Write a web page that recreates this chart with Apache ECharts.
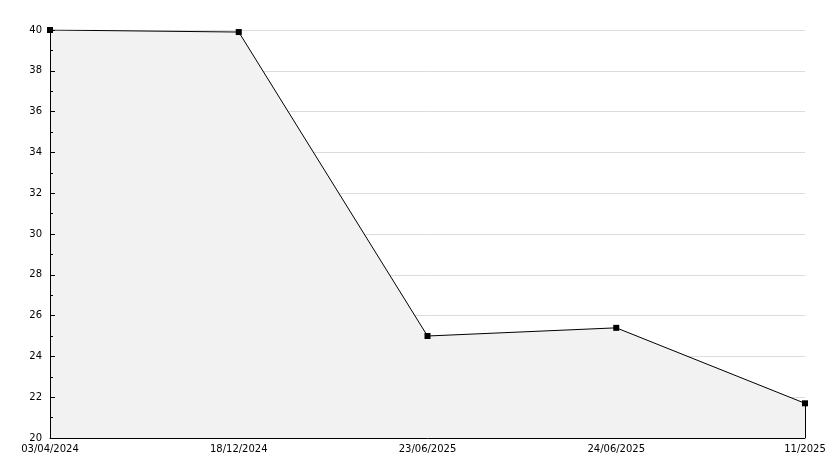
<!DOCTYPE html>
<html>
<head>
<meta charset="utf-8">
<script src="https://cdn.jsdelivr.net/npm/echarts@6/dist/echarts.min.js"></script>
<style>
  html, body { margin: 0; padding: 0; background: #fff; }
  #chart { width: 834px; height: 468px; }
</style>
</head>
<body>
<div id="chart"></div>
<script>
// dates along the bottom
var dates = ['03/04/2024', '18/12/2024', '23/06/2025', '24/06/2025', '11/2025']
// values
var values = [40, 39.9, 25.0, 25.4, 21.7]
var yMin = 20
var yMax = 40

var chart = echarts.init(document.getElementById('chart'))
chart.setOption({
  animation: false,
  grid: {
    left: 50,
    right: 29,
    top: 30,
    bottom: 30
  },
  xAxis: {
    type: 'category',
    boundaryGap: false,
    data: dates,
    z: 5,
    axisLine: { lineStyle: { color: '#000', width: 1 } },
    axisTick: { show: false },
    axisLabel: {
      color: '#000',
      fontFamily: 'DejaVu Sans',
      fontSize: 10,
      margin: 6,
      interval: 0
    },
    splitLine: { show: false }
  },
  yAxis: [{
    // grid lines, under the area
    type: 'value',
    min: yMin,
    max: yMax,
    interval: 2,
    z: 0,
    axisLine: { show: false },
    axisTick: { show: false },
    axisLabel: { show: false },
    splitLine: { show: true, lineStyle: { color: '#dcdcdc', width: 1 } }
  }, {
    // axis line, ticks and labels, over the area
    type: 'value',
    position: 'left',
    min: yMin,
    max: yMax,
    interval: 2,
    z: 5,
    axisLine: { show: true, onZero: false, lineStyle: { color: '#000', width: 1 } },
    axisTick: { show: true, inside: true, length: 5, lineStyle: { color: '#000', width: 1 } },
    minorTick: { show: true, splitNumber: 2, length: 3, lineStyle: { color: '#000', width: 1 } },
    axisLabel: {
      color: '#000',
      fontFamily: 'DejaVu Sans',
      fontSize: 10,
      margin: 8
    },
    splitLine: { show: false }
  }],
  series: [{
    type: 'line',
    data: values,
    symbol: 'rect',
    symbolSize: 6,
    z: 2,
    itemStyle: { color: '#000' },
    lineStyle: { color: '#000', width: 1 },
    areaStyle: { color: '#f2f2f2', opacity: 1, origin: 'start' },
    markLine: {
      silent: true,
      symbol: 'none',
      label: { show: false },
      lineStyle: { color: '#000', width: 1, type: 'solid' },
      data: [[
        { coord: [dates[dates.length - 1], values[values.length - 1]] },
        { coord: [dates[dates.length - 1], yMin] }
      ]]
    }
  }]
})
</script>
</body>
</html>
